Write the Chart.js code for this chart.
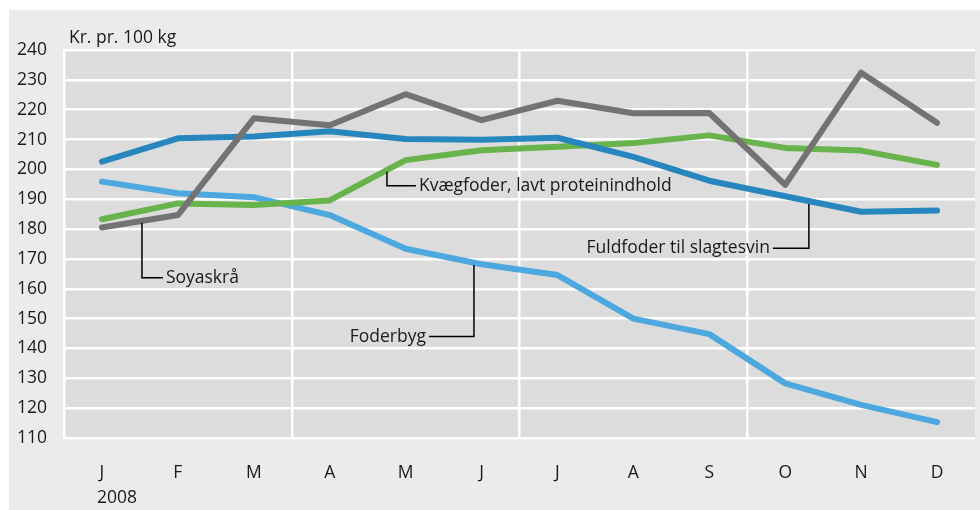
<!DOCTYPE html>
<html>
<head>
<meta charset="utf-8">
<script src="https://cdn.jsdelivr.net/npm/chart.js@4"></script>
<style>
html,body{margin:0;padding:0;background:#fff;}
#wrap{width:980px;height:510px;position:relative;}
</style>
</head>
<body>
<div id="wrap"><canvas id="c" width="980" height="510"></canvas></div>
<script>
const categories = ['J','F','M','A','M','J','J','A','S','O','N','D'];
const yearLabel = '2008';
const unitLabel = 'Kr. pr. 100 kg';
const soyaskraa = [180.5, 184.7, 217.1, 214.8, 225.2, 216.5, 223.0, 218.8, 218.9, 194.8, 232.4, 215.6];
const fuldfoder = [202.6, 210.4, 211.0, 212.8, 210.2, 209.9, 210.6, 204.2, 196.2, 191.0, 185.8, 186.2];
const kvaegfoder = [183.3, 188.6, 188.1, 189.6, 203.1, 206.4, 207.6, 208.8, 211.4, 207.2, 206.3, 201.5];
const foderbyg = [195.9, 192.0, 190.7, 184.7, 173.4, 168.2, 164.6, 150.0, 144.8, 128.3, 121.1, 115.3];
const yTicks = [110,120,130,140,150,160,170,180,190,200,210,220,230,240];

// leader-line labels, positions in data space (category index, value)
const labels = [
  {text:'Soyaskrå', x:0.527, yTop:182.1, yBot:163.7, xEnd:0.803, align:'left'},
  {text:'Kvægfoder, lavt proteinindhold', x:3.754, yTop:199.2, yBot:194.5, xEnd:4.136, align:'left'},
  {text:'Foderbyg', x:4.90, yTop:168.0, yBot:144.0, xEnd:4.307, align:'right'},
  {text:'Fuldfoder til slagtesvin', x:9.312, yTop:188.4, yBot:173.6, xEnd:8.838, align:'right'}
];

const FONT = '"Open Sans", "DejaVu Sans", sans-serif';
const TXT = '#1a1a1a';

const bgPlugin = {
  id:'bg',
  beforeDraw(chart){
    const ctx = chart.ctx, a = chart.chartArea;
    ctx.save();
    ctx.fillStyle = '#ffffff';
    ctx.fillRect(0,0,chart.width,chart.height);
    ctx.fillStyle = '#ebebeb';
    ctx.fillRect(9,10,chart.width-9,chart.height-10);
    ctx.fillStyle = '#dcdcdc';
    ctx.fillRect(a.left,a.top,a.right-a.left,a.bottom-a.top);
    ctx.restore();
  },
  afterDatasetsDraw(chart){
    const ctx = chart.ctx, xs = chart.scales.x, ys = chart.scales.y, a = chart.chartArea;
    ctx.save();
    ctx.strokeStyle = '#000';
    ctx.lineWidth = 1.5;
    ctx.fillStyle = TXT;
    ctx.font = '17.5px ' + FONT;
    ctx.textBaseline = 'middle';
    const px = v => xs.getPixelForValue(0) + v * (xs.getPixelForValue(1) - xs.getPixelForValue(0));
    labels.forEach(l => {
      const x = px(l.x), x2 = px(l.xEnd), y1 = ys.getPixelForValue(l.yTop), y2 = ys.getPixelForValue(l.yBot);
      ctx.beginPath();
      ctx.moveTo(x, y1);
      ctx.lineTo(x, y2);
      ctx.lineTo(x2, y2);
      ctx.stroke();
      ctx.textAlign = l.align;
      ctx.fillText(l.text, l.align === 'left' ? x2 + 3 : x2 - 3, y2);
    });
    ctx.textAlign = 'left';
    ctx.fillText(unitLabel, a.left + 5, 38);
    ctx.textAlign = 'center';
    ctx.fillText(yearLabel, xs.getPixelForValue(0) + 15, 498);
    ctx.restore();
  }
};

const mk = (label, data, color) => ({
  label, data, borderColor: color, backgroundColor: color,
  borderWidth: 6, pointRadius: 0, tension: 0, borderCapStyle: 'round', borderJoinStyle: 'round', fill:false
});

new Chart(document.getElementById('c'), {
  type:'line',
  data:{
    labels: categories,
    datasets:[
      mk('Soyaskrå', soyaskraa, '#737373'),
      mk('Fuldfoder til slagtesvin', fuldfoder, '#2786bd'),
      mk('Kvægfoder, lavt proteinindhold', kvaegfoder, '#68b34b'),
      mk('Foderbyg', foderbyg, '#4ca8de')
    ]
  },
  options:{
    responsive:false, animation:false,
    devicePixelRatio:1,
    layout:{padding:{top:50,right:5,left:0,bottom:0}},
    plugins:{legend:{display:false}, tooltip:{enabled:false}},
    scales:{
      x:{
        type:'category', offset:true,
        grid:{offset:true, drawTicks:false, lineWidth:2.5,
          color: c => (c.index % 3 === 0) ? '#ffffff' : 'rgba(0,0,0,0)'},
        border:{display:false},
        ticks:{color:TXT, font:{size:17.5, family:FONT}, padding:25, maxRotation:0, autoSkip:false},
        afterFit(s){ s.height = 72; }
      },
      y:{
        min:110, max:240,
        afterBuildTicks(s){ s.ticks = yTicks.map(v => ({value:v})); },
        grid:{color:'#ffffff', lineWidth:2.5, drawTicks:false},
        border:{display:false},
        ticks:{color:TXT, font:{size:17.5, family:FONT}, padding:17},
        afterFit(s){ s.width = 64; }
      }
    }
  },
  plugins:[bgPlugin]
});
</script>
</body>
</html>
